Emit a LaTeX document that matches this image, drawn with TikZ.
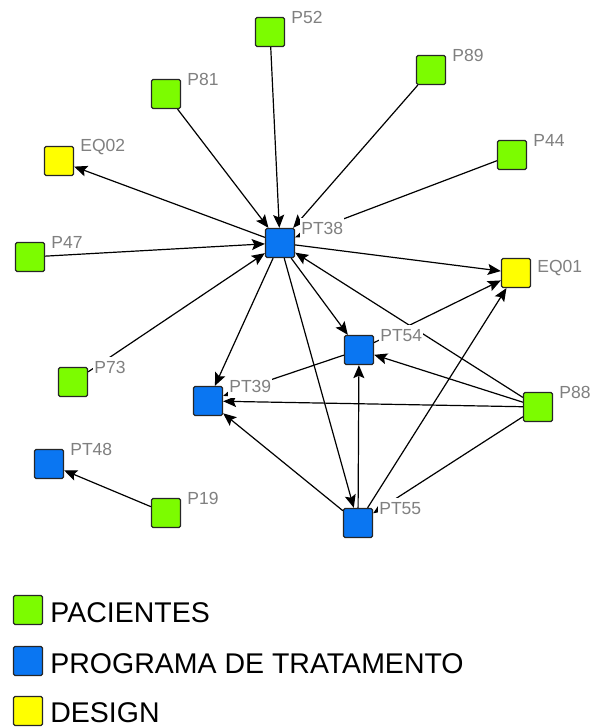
\documentclass[tikz,border=0pt]{standalone}
\usepackage{fontspec}
\setmainfont{Liberation Sans}
\usepackage{tikz}
\usetikzlibrary{arrows.meta,positioning}
\definecolor{pac}{RGB}{124,252,0}
\definecolor{prog}{RGB}{10,118,242}
\definecolor{des}{RGB}{255,255,0}
\definecolor{lab}{RGB}{128,128,128}
\tikzset{
  actor/.style={draw=black!85,line width=1.3pt,rounded corners=1.5pt,minimum size=29pt,inner sep=0pt},
  pnode/.style={actor,fill=pac},
  tnode/.style={actor,fill=prog},
  dnode/.style={actor,fill=des},
  tie/.style={->,line width=1.2pt},
  lbl/.style={anchor=west,xshift=5pt,yshift=-1pt,fill=white,inner xsep=1pt,inner ysep=4.5pt,text=lab,font=\fontsize{17.5}{20}\selectfont},
  legtxt/.style={inner sep=0pt,font=\fontsize{28.5}{32}\selectfont}
}

\begin{document}
\begin{tikzpicture}[x=1pt,y=-1pt,>={Stealth[length=13pt,width=11pt,inset=2.5pt]}]
  \useasboundingbox (0,0) rectangle (591,727);
  \node[pnode] (p52) at (270,32) {}; \node[pnode] (p81) at (166,94) {}; \node[pnode] (p89) at (431,70) {};
  \node[pnode] (p44) at (512,155) {}; \node[dnode] (eq02) at (59,161) {}; \node[pnode] (p47) at (30,257) {};
  \node[tnode] (pt38) at (280,243) {}; \node[dnode] (eq01) at (516,273) {}; \node[tnode] (pt54) at (359,350) {};
  \node[pnode] (p73) at (73,382) {}; \node[tnode] (pt39) at (208,401) {}; \node[pnode] (p88) at (538,407) {};
  \node[tnode] (pt48) at (49,464) {}; \node[pnode] (p19) at (166,513) {}; \node[tnode] (pt55) at (358,523) {};

  \draw[tie] (p52)--(pt38); \draw[tie] (p81)--(pt38); \draw[tie] (p89)--(pt38); \draw[tie] (p44)--(pt38);
  \draw[tie] (p47)--(pt38); \draw[tie] (p73)--(pt38); \draw[tie] (p88)--(pt38);
  \draw[tie] (pt38)--(eq02); \draw[tie] (pt38)--(eq01); \draw[tie] (pt38)--(pt39); \draw[tie] (pt38)--(pt55); \draw[tie] (pt38)--(pt54);
  \draw[tie] (pt54)--(eq01); \draw[tie] (pt54)--(pt39);
  \draw[tie] (pt55)--(eq01); \draw[tie] (pt55)--(pt54); \draw[tie] (pt55)--(pt39);
  \draw[tie] (p88)--(pt54); \draw[tie] (p88)--(pt39); \draw[tie] (p88)--(pt55);
  \draw[tie] (p19)--(pt48);

  \node[lbl] (l52) at (p52.north east) {P52}; \node[lbl] (l81) at (p81.north east) {P81}; \node[lbl] (l89) at (p89.north east) {P89};
  \node[lbl] (l44) at (p44.north east) {P44}; \node[lbl] (leq02) at (eq02.north east) {EQ02}; \node[lbl] (l47) at (p47.north east) {P47};
  \node[lbl] (l38) at (pt38.north east) {PT38}; \node[lbl,yshift=-9pt] (leq01) at (eq01.north east) {EQ01}; \node[lbl] (l54) at (pt54.north east) {PT54};
  \node[lbl] (l73) at (p73.north east) {P73}; \node[lbl] (l39) at (pt39.north east) {PT39}; \node[lbl] (l88) at (p88.north east) {P88};
  \node[lbl] (l48) at (pt48.north east) {PT48}; \node[lbl] (l19) at (p19.north east) {P19}; \node[lbl] (l55) at (pt55.north east) {PT55};

  \node[pnode] (kpac) at (28,610) {}; \node[legtxt,right=7pt of kpac,yshift=-2.5pt] (tpac) {PACIENTES};
  \node[tnode] (kprog) at (28,661) {}; \node[legtxt,right=7pt of kprog,yshift=-2.5pt] (tprog) {PROGRAMA DE TRATAMENTO};
  \node[dnode] (kdes) at (28,711) {}; \node[legtxt,right=7pt of kdes,yshift=-1.5pt] (tdes) {DESIGN};
\end{tikzpicture}
\end{document}
